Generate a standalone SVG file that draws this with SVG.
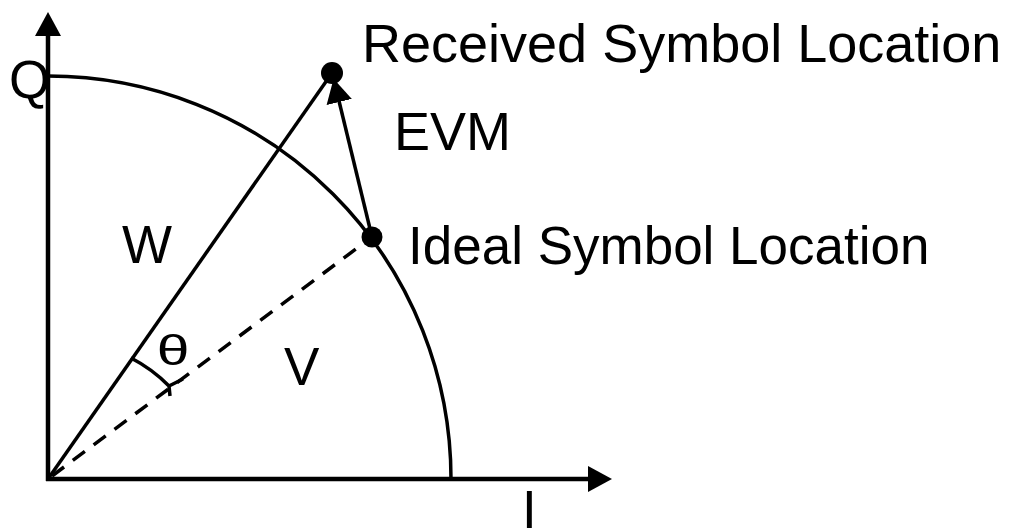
<svg xmlns="http://www.w3.org/2000/svg" width="1010" height="529" viewBox="0 0 1010 529">
<style>
.ln{stroke:#000;fill:none;stroke-width:3.5}
.ax{stroke:#000;fill:none;stroke-width:4.5}
.dash{stroke:#000;fill:none;stroke-width:3.5;stroke-dasharray:15 11}
.dot{fill:#000}
.t{font-family:"Liberation Sans",Arial,sans-serif;font-size:53px;fill:#000}
.th{font-family:"Liberation Sans",Arial,sans-serif;font-size:42px;fill:#000}
</style>
<defs>
<marker id="ah" viewBox="0 0 24 26" markerWidth="24" markerHeight="26" markerUnits="userSpaceOnUse" refX="1" refY="13" orient="auto">
<path d="M0,0 L24,13 L0,26 z" fill="#000"/>
</marker>
</defs>
<rect width="1010" height="529" fill="#fff"/>
<g id="axes">
<line class="ax" x1="48" y1="481" x2="48" y2="35" marker-end="url(#ah)"/>
<line class="ax" x1="46" y1="479" x2="589" y2="479" marker-end="url(#ah)"/>
<text class="t" x="9" y="98">Q</text>
<text class="t" x="522" y="528">I</text>
</g>
<g id="circle-arc">
<path class="ln" d="M48,76 A403,403 0 0 1 451,479"/>
</g>
<g id="received">
<circle class="dot" cx="332" cy="73" r="11"/>
<text class="t" x="362" y="62" style="font-size:54px">Received Symbol Location</text>
</g>
<g id="ideal">
<circle class="dot" cx="372" cy="237" r="10.5"/>
<text class="t" x="408" y="264">Ideal Symbol Location</text>
</g>
<g id="connectors">
<line class="ln" x1="48" y1="479" x2="332" y2="73"/>
<line class="dash" x1="52" y1="476" x2="372" y2="237"/>
<line class="ln" x1="372" y1="237" x2="339" y2="101" marker-end="url(#ah)"/>
<path class="ln" d="M131,358 A148,148 0 0 1 169,386 M170,396 L169,386 L183,379"/>
</g>
<g id="labels">
<text class="t" x="394" y="150" style="font-size:54px">EVM</text>
<text class="t" x="122" y="263">W</text>
<text class="t" x="284" y="385">V</text>
<text class="th" transform="translate(173,365) scale(1.4,1)" text-anchor="middle">θ</text>
</g>
</svg>
